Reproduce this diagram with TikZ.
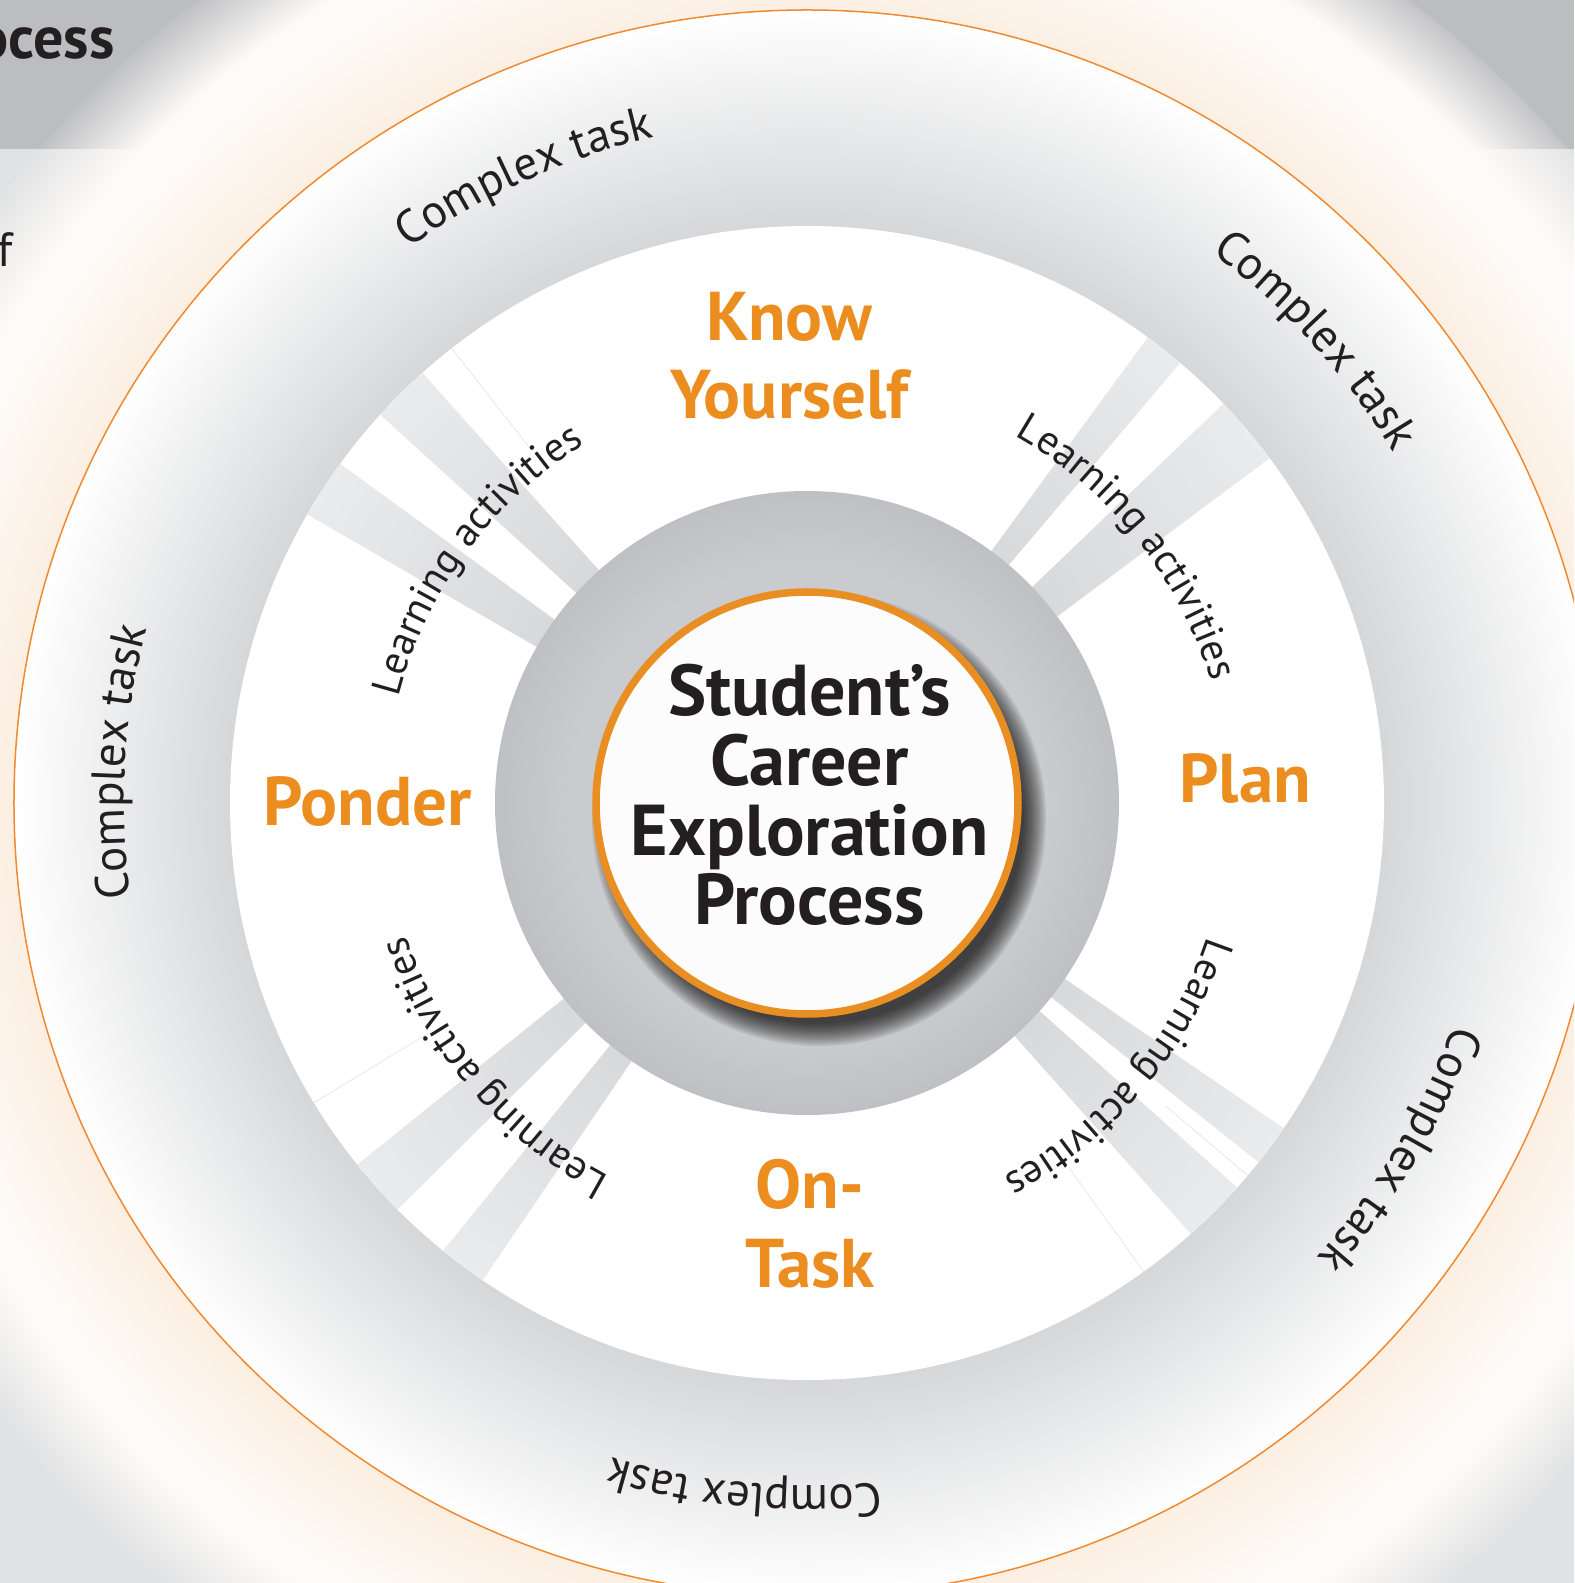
\documentclass[tikz,border=0pt]{standalone}
\usepackage{fontspec}
\setmainfont{PT Sans}
\usepackage{tikz}
\usetikzlibrary{decorations.text,fadings}
\definecolor{ink}{HTML}{231F20}
\definecolor{phaseorange}{HTML}{EC8E1F}
\definecolor{rimorange}{HTML}{E98E22}
\definecolor{lineorange}{HTML}{F08A30}
\definecolor{bandgray}{HTML}{BCBDC1}
\definecolor{pagegray}{HTML}{E1E2E4}
\definecolor{glowA}{HTML}{FCEFE2}
\definecolor{glowB}{HTML}{FDFBF8}
\definecolor{ringin}{HTML}{D6D7D9}
\definecolor{rayin}{HTML}{D8D9DB}
\definecolor{rayout}{HTML}{EAEBEC}
\definecolor{hubA}{HTML}{CACBCE}
\definecolor{hubB}{HTML}{BFC0C3}
\pgfdeclareradialshading{glowshade}{\pgfpointorigin}{color(0bp)=(glowA); color(19.6bp)=(glowA); color(21bp)=(glowA!50!glowB); color(22.3bp)=(glowB); color(25bp)=(glowB); color(50bp)=(glowB)}
\pgfdeclareradialshading{glowmask}{\pgfpointorigin}{color(0bp)=(pgftransparent!0); color(23bp)=(pgftransparent!0); color(25bp)=(pgftransparent!100); color(50bp)=(pgftransparent!100)}
\pgfdeclarefading{glowfade}{\pgfuseshading{glowmask}}
\pgfdeclareradialshading{ringshade}{\pgfpointorigin}{color(0bp)=(ringin); color(18.2bp)=(ringin); color(25bp)=(white); color(50bp)=(white)}
\pgfdeclareradialshading{rayshade}{\pgfpointorigin}{color(0bp)=(rayin); color(13.5bp)=(rayin); color(25bp)=(rayout); color(50bp)=(rayout)}
\pgfdeclareradialshading{hubshade}{\pgfpointorigin}{color(0bp)=(hubA); color(19bp)=(hubA); color(25bp)=(hubB); color(50bp)=(hubB)}

\begin{document}
\begin{tikzpicture}[x=0.5pt,y=0.5pt,
  phase/.style={text=phaseorange,font=\fontsize{34.5}{39.4}\selectfont\bfseries,inner sep=0pt,anchor=base},
  hubtext/.style={text=ink,font=\fontsize{36}{36}\selectfont\bfseries,inner sep=0pt,anchor=base},
  cut/.style={text=ink,inner sep=0pt,anchor=base east},
  curved/.style={decorate,decoration={text along path,text align=center,text color=ink,text={#1}}}]

\useasboundingbox (-807,-780) rectangle (767,803);
\clip (-807,-780) rectangle (767,803);
\fill[pagegray] (-807,-780) rectangle (767,803);
\fill[bandgray] (-807,654) rectangle (767,803);
\shade[shading=glowshade,path fading=glowfade] (0,0) circle (1010);
\node[cut,font=\fontsize{30}{30}\selectfont\bfseries] (ocess) at (-692,744.7) {ocess};
\node[cut,font=\fontsize{24}{24}\selectfont] (fcut) at (-794,536) {f};

\shade[shading=ringshade] (0,0) circle (793);
\draw[lineorange,line width=0.75pt] (0,0) circle (793);
\fill[white] (0,0) circle (577);
\begin{scope}
  \clip foreach \a/\b in {131.8/137.7,144/150,36.7/43.8,49.7/53.8,218.8/224.8,230.9/235.8,-48.3/-41.8,-38.5/-34.3}
    {(0,0) -- (\a:577) arc[start angle=\a,end angle=\b,radius=577] -- cycle};
  \shade[shading=rayshade] (0,0) circle (577);
\end{scope}
\foreach \a/\r in {128/451,211.3/445,-54.3/450,-40.2/470}
  \draw[rayin!60,line width=0.4pt] (\a:\r) -- (\a:577);

\shade[shading=hubshade] (0,0) circle (312);
\foreach \k in {1,...,12}
  \fill[black,opacity=0.085] (12,-16) circle (203+2*\k);
\draw[rimorange,line width=3.75pt,fill=white!98!gray] (0,0) circle (211);

\node[hubtext] (hub) at (2.5,87.3) {\renewcommand\arraystretch{0.85}\begin{tabular}[t]{c}Student’s\\Career\\Exploration\\Process\end{tabular}};
\node[phase] (know) at (-17.5,462.8) {\begin{tabular}[t]{c}Know\\Yourself\end{tabular}};
\node[phase] (plan) at (438.3,0.4) {Plan};
\node[phase] (ponder) at (-439.5,-22.9) {Ponder};
\node[phase] (ontask) at (2.7,-405.5) {\begin{tabular}[t]{c}On-\\Task\end{tabular}};

\foreach \ang in {114.3,42.3,-30.3,-95.2,176.6}
  \path[curved={|\fontsize{23.5}{28}\selectfont|Complex task}] ({\ang+35}:683) arc[start angle=\ang+35,end angle=\ang-35,radius=683];
\foreach \ang in {143.7,38.6,-40.4,220.2}
  \path[curved={|\fontsize{20.5}{24}\selectfont|Learning activities}] ({\ang+40}:422) arc[start angle=\ang+40,end angle=\ang-40,radius=422];

\end{tikzpicture}
\end{document}
